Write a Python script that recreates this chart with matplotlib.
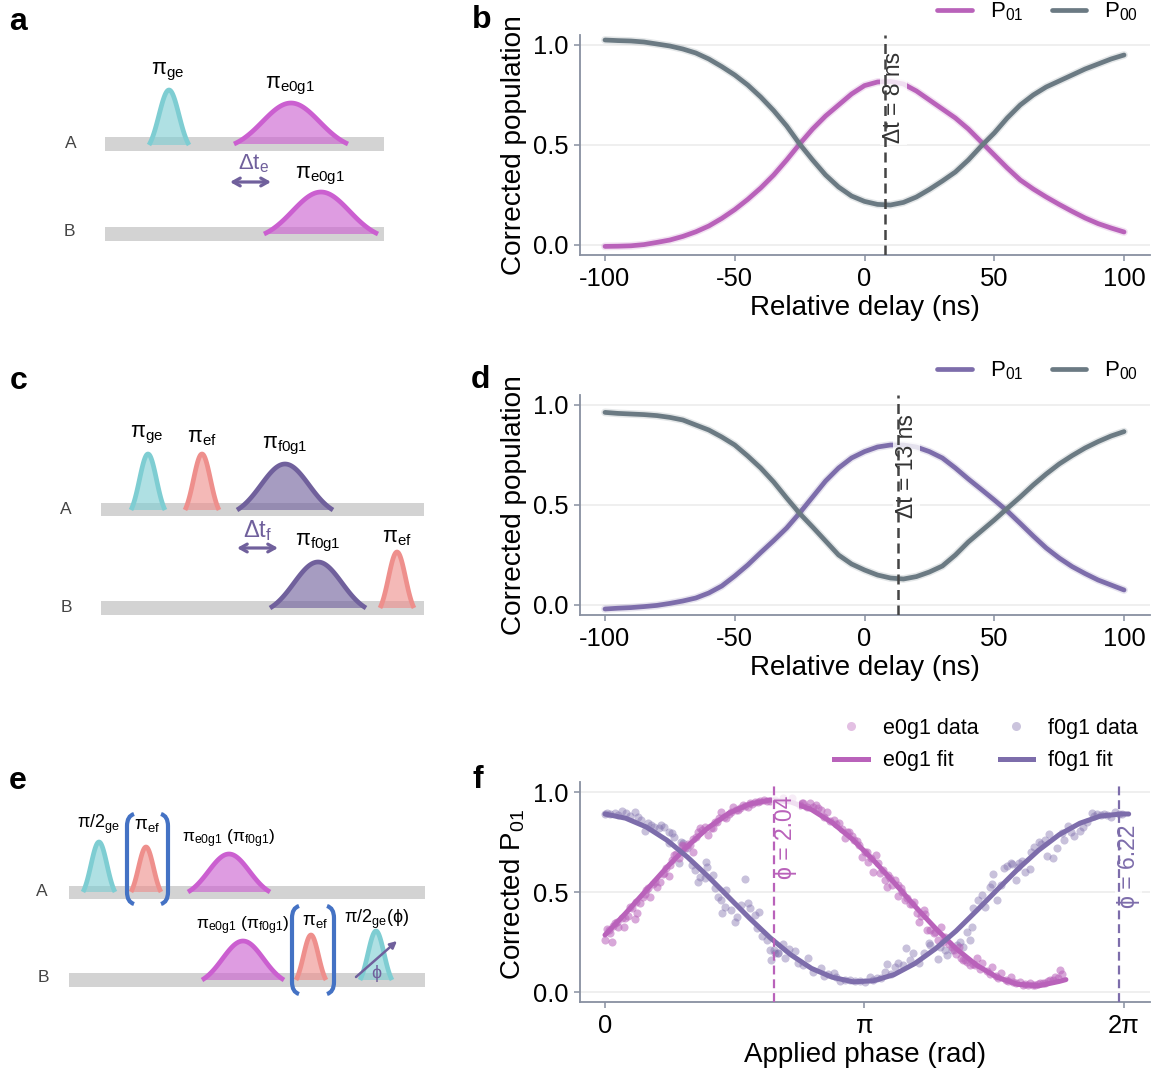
import matplotlib
matplotlib.use('Agg')
import numpy as np
import matplotlib.pyplot as plt
from matplotlib.lines import Line2D
from matplotlib.patches import PathPatch, Rectangle, Polygon
from matplotlib.path import Path

plt.rcParams['font.family'] = ['Liberation Sans', 'DejaVu Sans']
plt.rcParams['mathtext.fontset'] = 'custom'
plt.rcParams['mathtext.rm'] = 'Liberation Sans'
plt.rcParams['mathtext.it'] = 'Liberation Sans'
plt.rcParams['mathtext.bf'] = 'Liberation Sans:bold'
plt.rcParams['mathtext.default'] = 'regular'

W, H = 1155, 1072

# ---------- data ----------
delay = list(range(-100, 101, 5))
b_p01 = [-.007,-.006,-.004,.002,.013,.025,.043,.066,.095,.133,.177,.228,.285,.35,.425,.505,.58,.645,.70,.755,.797,
         .815,.818,.805,.77,.725,.68,.635,.58,.515,.45,.385,.325,.28,.24,.203,.168,.135,.107,.085,.065]
b_p00 = [1.025,1.022,1.02,1.015,1.005,.995,.98,.96,.93,.892,.85,.80,.74,.672,.595,.505,.425,.35,.29,.245,.218,
         .203,.20,.213,.24,.278,.32,.365,.425,.495,.56,.635,.70,.75,.79,.82,.85,.88,.905,.93,.95]
d_p01 = [-.02,-.016,-.013,-.008,-.002,.008,.02,.035,.06,.095,.145,.20,.262,.322,.385,.46,.54,.62,.685,.735,.767,
         .79,.80,.80,.79,.767,.735,.685,.63,.578,.525,.47,.408,.345,.285,.235,.192,.157,.125,.10,.075]
d_p00 = [.963,.958,.955,.952,.947,.938,.925,.90,.875,.84,.80,.745,.685,.615,.535,.458,.39,.32,.25,.205,.175,
         .15,.135,.13,.142,.165,.195,.25,.315,.37,.425,.483,.54,.60,.655,.705,.747,.785,.817,.845,.867]

e_fit_x = [0,.25,.5,.75,1,1.25,1.5,1.75,2,2.25,2.5,2.75,3,3.25,3.5,3.75,4,4.25,4.5,4.75,5,5.25,5.5,5.58]
e_fit_y = [.285,.394,.509,.624,.730,.822,.894,.940,.960,.950,.912,.847,.762,.659,.547,.430,.319,.217,.134,.073,.038,.031,.053,.062]
f_fit_x = [0,.25,.5,.75,1,1.25,1.5,1.75,2,2.25,2.5,2.75,3,3.25,3.5,3.75,4,4.25,4.5,4.75,5,5.25,5.5,5.75,6,6.25,6.34]
f_fit_y = [.89,.869,.825,.759,.674,.577,.473,.369,.271,.186,.118,.074,.051,.056,.087,.142,.216,.305,.407,.512,.615,.709,.787,.844,.88,.89,.89]

e_data_x = [0,.02,.09,.06,.12,.16,.23,.24,.30,.36,.39,.42,.46,.54,.52,.63,.67,.71,.77,.79,.84,.89,.93,1.03,1.07,1.10,1.15,1.21,1.25,1.31,1.35,1.41,1.47,1.55,1.61,1.67,1.73,1.82,1.92,2.0,
            2.06,2.16,2.26,2.36,2.40,2.48,2.56,2.61,2.69,2.77,2.83,2.91,2.95,3.01,3.07,3.11,3.19,3.28,3.25,3.33,3.41,3.39,3.47,3.55,3.55,3.63,3.74,3.78,3.86,3.80,3.90,3.98,4.07,4.12,
            4.22,4.28,4.34,4.42,4.50,4.56,4.68,4.79,4.91,5.03,5.15,5.27,5.39,5.45,5.51,5.53,
            .05,.15,.28,.33,.48,.58,.74,.81,.97,1.0,1.13,1.28,1.38,1.5,1.58,1.7,1.78,1.88,1.96,2.44,2.52,2.65,2.73,2.87,2.99,3.15,3.22,3.37,3.45,3.51,3.6,3.69,3.83,3.94,4.03,4.16,4.25,4.31,4.38,4.46,4.62,4.73,4.85,4.97,5.09,5.21,5.33,5.42,5.48,
            .1,.2,.38,.5,.6,.7,.86,.95,1.06,1.18,1.33,1.44,1.52,1.64,1.76,1.85,2.38,2.58,2.8,2.93,3.05,3.17,3.31,3.43,3.58,3.66,3.72,3.88,3.99,4.09,4.2,4.36,4.48,4.54,4.66,4.76,4.88,4.94,5.06,5.12,5.18,5.24,5.3,5.36]
e_data_y = [.26,.313,.252,.293,.343,.327,.323,.368,.423,.363,.393,.443,.477,.477,.518,.523,.552,.593,.58,.635,.685,.668,.735,.735,.702,.777,.818,.827,.785,.818,.852,.902,.868,.927,.91,.935,.927,.952,.96,.957,
            .96,.968,.968,.935,.943,.943,.935,.91,.902,.86,.843,.768,.802,.76,.735,.677,.652,.685,.602,.593,.527,.56,.535,.535,.48,.46,.452,.393,.41,.352,.31,.293,.327,.277,
            .21,.227,.16,.135,.168,.143,.123,.093,.073,.052,.043,.047,.06,.077,.11,.09,
            .31,.35,.38,.42,.49,.54,.62,.66,.72,.74,.80,.82,.87,.89,.91,.93,.94,.955,.955,.925,.925,.875,.855,.815,.78,.70,.67,.61,.57,.56,.50,.44,.38,.31,.26,.24,.19,.17,.15,.14,.105,.08,.06,.045,.04,.035,.045,.06,.07,
            .33,.37,.45,.51,.55,.59,.69,.73,.765,.81,.85,.875,.9,.92,.945,.95,.945,.92,.84,.80,.755,.70,.645,.585,.52,.47,.44,.39,.30,.25,.225,.16,.135,.115,.09,.07,.055,.05,.035,.035,.035,.04,.045,.055]

f_data_x = [0,.06,.12,.20,.26,.36,.40,.44,.48,.52,.59,.65,.71,.77,.81,.83,.77,.89,.95,1.05,1.09,1.13,1.15,1.22,1.24,1.21,1.31,1.33,1.37,1.47,1.41,1.45,1.42,1.53,1.57,1.60,1.65,1.73,1.76,1.69,1.86,1.82,1.84,1.90,1.96,2.00,2.06,2.01,2.10,
            2.04,2.10,2.15,2.18,2.23,2.30,2.34,2.40,2.46,2.52,2.61,2.65,2.77,2.85,2.97,3.09,3.21,3.29,3.39,3.42,3.51,3.55,3.61,3.65,3.69,3.73,3.80,3.86,3.92,3.94,4.03,4.06,4.12,4.14,
            4.20,4.26,4.30,4.34,4.38,4.42,4.44,4.46,4.52,4.56,4.60,4.66,4.70,4.74,4.79,4.83,4.87,4.91,4.97,5.01,5.05,5.09,5.14,5.19,5.25,5.33,5.35,5.42,5.47,5.53,5.56,5.60,5.68,5.75,5.79,5.89,5.96,6.04,6.13,6.18,6.26,
            .03,.16,.3,.56,.68,.92,.99,2.7,2.8,2.9,3.03,3.15,3.25,3.34,3.46,4.68,4.93,5.0,5.16,5.28,5.38,5.64,5.84,5.92,6.0,6.08,6.22]
f_data_y = [.89,.89,.897,.907,.893,.902,.877,.86,.807,.847,.827,.818,.823,.802,.793,.777,.747,.643,.743,.635,.61,.552,.573,.652,.623,.568,.585,.518,.477,.51,.46,.427,.393,.41,.352,.377,.435,.443,.418,.565,.398,.385,.318,.282,.26,.21,.193,.16,.193,
            .21,.193,.24,.168,.213,.207,.143,.135,.168,.102,.118,.08,.097,.057,.06,.057,.077,.068,.102,.142,.127,.147,.135,.218,.16,.193,.143,.193,.243,.235,.165,.227,.21,.185,
            .21,.235,.252,.227,.302,.26,.327,.418,.46,.485,.423,.527,.59,.46,.535,.618,.63,.647,.56,.643,.657,.602,.613,.727,.752,.76,.68,.668,.718,.793,.76,.832,.782,.807,.827,.897,.89,.89,.877,.902,.89,
            .895,.885,.88,.835,.835,.75,.72,.088,.075,.06,.055,.052,.06,.07,.09,.54,.64,.625,.70,.74,.79,.80,.85,.88,.885,.885,.89]

# ---------- colours ----------
PINK_LINE = '#B962BA'
SLATE = '#6B7A83'
PURPLE_LINE = '#7D6DAB'
TEAL = '#7ECDD2'
MAGENTA = '#CB5FD0'
SALMON = '#EE8F8C'
DPURPLE = '#70609C'
BLUE = '#4472C4'
BAR = '#D3D3D3'
SPINE = '#8890A0'
GRID = '#ECECEC'

fig = plt.figure(figsize=(W / 100, H / 100), dpi=100)


def make_axes(top, bottom):
    ax = fig.add_axes([580 / W, 1 - bottom / H, 570 / W, (bottom - top) / H])
    for s in ['top', 'right']:
        ax.spines[s].set_visible(False)
    for s in ['left', 'bottom']:
        ax.spines[s].set_color(SPINE)
        ax.spines[s].set_linewidth(1.3)
    ax.tick_params(axis='both', labelsize=18.4, length=4.5, width=1.1, color=SPINE, pad=4)
    ax.set_ylim(-0.05, 1.05)
    ax.set_yticks([0, .5, 1], ['0.0', '0.5', '1.0'])
    ax.yaxis.grid(True, color=GRID, lw=1.2)
    ax.set_axisbelow(True)
    return ax


def delay_panel(top, bottom, p01, p00, c01, dt, label, label_y, leg_y):
    ax = make_axes(top, bottom)
    ax.set_xlim(-109.63, 110.0)
    ax.set_xticks([-100, -50, 0, 50, 100], ['-100', '-50', '0', '50', '100'])
    ax.plot(delay, p01, color=c01, lw=5.6, alpha=.18, solid_capstyle='round', zorder=2)
    l1, = ax.plot(delay, p01, color=c01, lw=3.4, solid_capstyle='round', zorder=2.1)
    ax.plot(delay, p00, color=SLATE, lw=5.6, alpha=.18, solid_capstyle='round', zorder=2.2)
    l2, = ax.plot(delay, p00, color=SLATE, lw=3.4, solid_capstyle='round', zorder=2.3)
    ax.axvline(dt, color='#444444', lw=1.8, ls=(0, (4, 2.2)), zorder=4)
    ax.text(dt + 3.3, label_y, label, rotation=90, fontsize=16.5, color='#333333', ha='center', va='center', zorder=3,
            bbox=dict(fc='white', ec='none', alpha=.8, pad=1.5))
    ax.set_xlabel('Relative delay (ns)', fontsize=20, labelpad=3)
    ax.set_ylabel('Corrected population', fontsize=20.2)
    ax.yaxis.set_label_coords((527 - 580) / 570, .5)
    fig.legend([l1, l2], ['$P_{01}$', '$P_{00}$'], loc='center right', ncol=2, frameon=False, fontsize=16,
               bbox_to_anchor=(1138 / W, 1 - leg_y / H), handlelength=1.55, handletextpad=.8, columnspacing=1.3,
               borderpad=0, borderaxespad=0)
    return ax


ax_b = delay_panel(35, 255, b_p01, b_p00, PINK_LINE, 8, 'Δt = 8 ns', .74, 12)
ax_d = delay_panel(395, 615, d_p01, d_p00, PURPLE_LINE, 13, 'Δt = 13 ns', .695, 371)

# panel f
ax_f = make_axes(782, 1002)
ax_f.set_xlim(-25 / 82.6, 545 / 82.6)
ax_f.set_xticks([0, np.pi, 2 * np.pi], ['0', 'π', '2π'])
ax_f.scatter(f_data_x, f_data_y, s=34, color=PURPLE_LINE, alpha=.42, lw=0, zorder=2)
ax_f.scatter(e_data_x, e_data_y, s=34, color=PINK_LINE, alpha=.55, lw=0, zorder=2.1)
ax_f.plot(e_fit_x, e_fit_y, color=PINK_LINE, lw=3.6, solid_capstyle='round', zorder=2.5)
ax_f.plot(f_fit_x, f_fit_y, color=PURPLE_LINE, lw=3.6, solid_capstyle='round', zorder=2.6)
ax_f.axvline(2.04, color=PINK_LINE, lw=1.6, ls=(0, (4, 2.2)), zorder=4)
ax_f.axvline(6.22, color=PURPLE_LINE, lw=1.6, ls=(0, (4, 2.2)), zorder=4)
ax_f.text(2.04 + .15, .775, 'ϕ = 2.04', rotation=90, fontsize=16.5, color=PINK_LINE, ha='center', va='center', zorder=3,
          bbox=dict(fc='white', ec='none', alpha=.8, pad=1.5))
ax_f.text(6.22 + .12, .63, 'ϕ = 6.22', rotation=90, fontsize=16.5, color=PURPLE_LINE, ha='center', va='center', zorder=3,
          bbox=dict(fc='white', ec='none', alpha=.8, pad=1.5))
ax_f.set_xlabel('Applied phase (rad)', fontsize=20, labelpad=3)
ax_f.set_ylabel('Corrected $P_{01}$', fontsize=20)
ax_f.yaxis.set_label_coords((527 - 580) / 570, .49)
leg_handles = [Line2D([], [], ls='', marker='o', ms=6.5, mew=0, color=PINK_LINE, alpha=.4),
               Line2D([], [], color=PINK_LINE, lw=3.6),
               Line2D([], [], ls='', marker='o', ms=6.5, mew=0, color=PURPLE_LINE, alpha=.4),
               Line2D([], [], color=PURPLE_LINE, lw=3.6)]
fig.legend(leg_handles, ['e0g1 data', 'e0g1 fit', 'f0g1 data', 'f0g1 fit'], loc='center right', ncol=2, frameon=False,
           fontsize=15.5, bbox_to_anchor=(1138 / W, 1 - 744.5 / H), handlelength=1.55, handletextpad=.7, columnspacing=1.0,
           labelspacing=.55, borderpad=0, borderaxespad=0)

# ---------- schematic overlay ----------
ov = fig.add_axes([0, 0, 1, 1], facecolor='none')
ov.set_xlim(0, W)
ov.set_ylim(H, 0)
ov.axis('off')


def bar(x0, x1, y0, y1):
    ov.add_patch(Rectangle((x0, y0), x1 - x0, y1 - y0, fc=BAR, ec='none', zorder=1))


def pulse(cx, half, top, base, color):
    t = np.linspace(-1, 1, 80)
    prof = np.exp(-0.5 * (t * 2.0) ** 2)
    prof = (prof - prof[0]) / (1 - prof[0])
    xs = cx + half * t
    ys = base - (base - top) * prof
    ov.add_patch(Polygon(np.c_[xs, ys], closed=True, fc=color, ec='none', alpha=.62, zorder=2))
    ov.plot(xs, ys, color=color, lw=3.4, solid_capstyle='butt', zorder=3)


def label(x, y, s, size=15.5, color='black'):
    ov.text(x, y, s, fontsize=size, color=color, ha='center', va='center', zorder=5)


def bracket(x, y0, y1, direction):
    d = 7 * direction
    verts = [(x + d, y0), (x, y0 + 2), (x, y0 + 12), (x, y1 - 12), (x, y1 - 2), (x + d, y1)]
    codes = [Path.MOVETO, Path.CURVE3, Path.CURVE3, Path.LINETO, Path.CURVE3, Path.CURVE3]
    ov.add_patch(PathPatch(Path(verts, codes), fc='none', ec=BLUE, lw=3, zorder=4))


def darrow(x0, x1, y):
    ov.annotate('', xy=(x1, y), xytext=(x0, y), zorder=5,
                arrowprops=dict(arrowstyle='<->,head_width=.28,head_length=.5', color=DPURPLE, lw=2.3,
                                shrinkA=0, shrinkB=0))


for name, x, y in [('a', 18, 22), ('b', 482, 20), ('c', 19, 381), ('d', 480, 380), ('e', 18, 781), ('f', 478, 780)]:
    ov.text(x, y, name, fontsize=23, fontweight='bold', ha='center', va='center')

# a
bar(105, 384, 137, 151)
bar(105, 384, 227, 241)
pulse(169, 20, 90, 145, TEAL)
pulse(291, 57, 103, 144, MAGENTA)
pulse(321, 57, 192, 234, MAGENTA)
label(71, 143, 'A', 12.5, '#444444')
label(69, 232, 'B', 12.5, '#444444')
label(168, 72, '$π_{ge}$')
label(290, 86, '$π_{e0g1}$')
label(320, 176, '$π_{e0g1}$')
label(254, 164, '$Δt_{e}$', 16, DPURPLE)
darrow(230, 271, 182)

# c
bar(101, 424, 503, 516)
bar(101, 424, 601, 615)
pulse(148, 17, 454, 510, TEAL)
pulse(202, 17, 454, 510, SALMON)
pulse(285, 48, 464, 510, DPURPLE)
pulse(318, 48, 562, 608, DPURPLE)
pulse(397, 17, 552, 608, SALMON)
label(66, 509, 'A', 12.5, '#444444')
label(66, 607, 'B', 12.5, '#444444')
label(147, 435, '$π_{ge}$')
label(202, 438, '$π_{ef}$')
label(285, 446, '$π_{f0g1}$')
label(318, 543, '$π_{f0g1}$')
label(397, 537, '$π_{ef}$')
label(258, 531, '$Δt_{f}$', 17, DPURPLE)
darrow(237, 278, 548)

# e
bar(69, 425, 886, 899)
bar(69, 425, 973, 987)
pulse(99, 16, 842, 892, TEAL)
pulse(146, 15, 847, 892, SALMON)
pulse(229, 41, 854, 892, MAGENTA)
pulse(243, 41, 941, 980, MAGENTA)
pulse(311, 15, 935, 980, SALMON)
pulse(376, 16, 931, 980, TEAL)
bracket(127, 814, 904, 1)
bracket(168, 814, 904, -1)
bracket(292, 906, 994, 1)
bracket(334, 906, 994, -1)
label(42, 891, 'A', 12.5, '#444444')
label(43, 977, 'B', 12.5, '#444444')
label(99, 824, '$π/2_{ge}$', 13)
label(147, 825, '$π_{ef}$', 13.5)
label(229, 839, '$π_{e0g1}$ $(π_{f0g1})$', 12.5)
label(243, 926, '$π_{e0g1}$ $(π_{f0g1})$', 12.5)
label(315, 921, '$π_{ef}$', 13.5)
label(377, 919, '$π/2_{ge}$(ϕ)', 13)
ov.annotate('', xy=(397, 941), xytext=(356, 977), zorder=6,
            arrowprops=dict(arrowstyle='-|>,head_width=.2,head_length=.4', color=DPURPLE, lw=1.8, shrinkA=0, shrinkB=0))
label(376, 974, 'ϕ', 13, DPURPLE)

fig.savefig('out.png', dpi=100)
